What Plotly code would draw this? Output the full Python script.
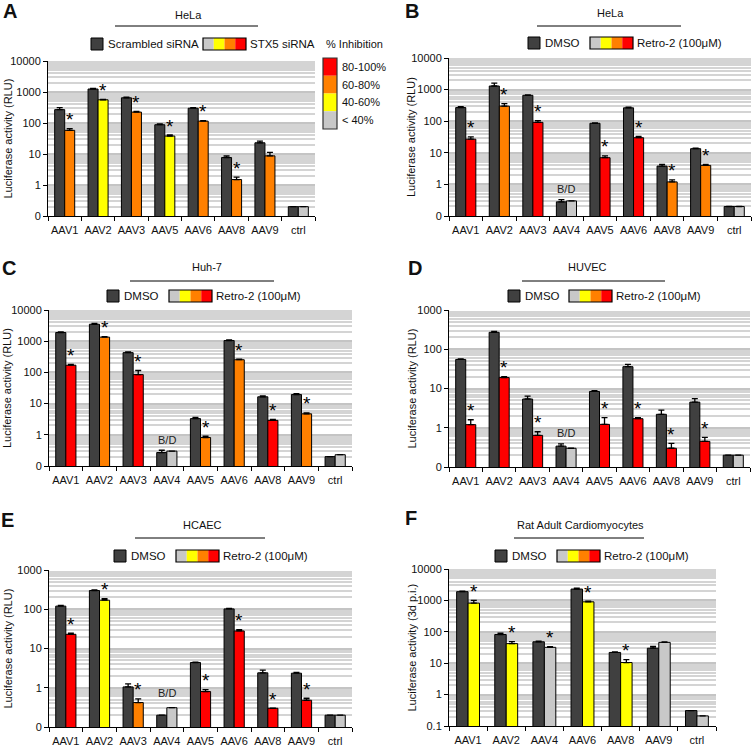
import math
import plotly.graph_objects as go

W, H = 755, 750
FONT = "Liberation Sans, Arial, sans-serif"
DARK = "#404040"
GRID = "#d4d4d4"
CLS_COLORS = {"G": "#c8c8c8", "Y": "#ffff00", "O": "#ff8000", "R": "#ff0000"}

# A - HeLa, siRNA
a_cats = ["AAV1", "AAV2", "AAV3", "AAV5", "AAV6", "AAV8", "AAV9", "ctrl"]
a_ctrl = [270, 1250, 650, 88, 300, 7.7, 23, 0.2]
a_ctrl_err = [45, 60, 30, 5, 10, 1.0, 3, 0]
a_treat = [58, 560, 225, 38, 115, 1.5, 8.7, 0.2]
a_treat_err = [8, 20, 10, 3, 5, 0.3, 2.5, 0]
a_cls = ["O", "Y", "O", "Y", "O", "O", "O", "G"]
a_stars = ["AAV1", "AAV2", "AAV3", "AAV5", "AAV6", "AAV8"]

# B - HeLa, Retro-2
b_cats = ["AAV1", "AAV2", "AAV3", "AAV4", "AAV5", "AAV6", "AAV8", "AAV9", "ctrl"]
b_ctrl = [270, 1300, 660, 0.28, 86, 265, 3.8, 13.5, 0.2]
b_ctrl_err = [20, 300, 20, 0.05, 3, 15, 0.5, 0.5, 0]
b_treat = [27, 300, 92, 0.3, 7, 30, 1.2, 4, 0.2]
b_treat_err = [5, 60, 12, 0, 1, 3, 0.2, 0.3, 0]
b_cls = ["R", "O", "R", "G", "R", "R", "O", "O", "G"]
b_stars = ["AAV1", "AAV2", "AAV3", "AAV5", "AAV6", "AAV8", "AAV9"]

# C - Huh-7
c_cats = ["AAV1", "AAV2", "AAV3", "AAV4", "AAV5", "AAV6", "AAV8", "AAV9", "ctrl"]
c_ctrl = [1900, 3500, 430, 0.27, 3.3, 1050, 16.5, 19.5, 0.2]
c_ctrl_err = [100, 200, 20, 0.05, 0.3, 50, 1, 1.5, 0]
c_treat = [170, 1350, 85, 0.3, 0.82, 255, 2.9, 4.7, 0.23]
c_treat_err = [10, 60, 30, 0, 0.08, 10, 0.2, 0.3, 0]
c_cls = ["R", "O", "R", "G", "O", "O", "R", "O", "G"]
c_stars = ["AAV1", "AAV2", "AAV3", "AAV5", "AAV6", "AAV8", "AAV9"]

# D - HUVEC
d_cats = ["AAV1", "AAV2", "AAV3", "AAV4", "AAV5", "AAV6", "AAV8", "AAV9", "ctrl"]
d_ctrl = [55, 270, 5.4, 0.34, 8.4, 36, 2.2, 4.5, 0.2]
d_ctrl_err = [2, 15, 1, 0.05, 0.4, 5, 0.6, 1, 0]
d_treat = [1.2, 19, 0.64, 0.3, 1.22, 1.7, 0.3, 0.45, 0.2]
d_treat_err = [0.4, 1, 0.15, 0, 0.6, 0.1, 0.1, 0.12, 0]
d_cls = ["R", "R", "R", "G", "R", "R", "R", "R", "G"]
d_stars = ["AAV1", "AAV2", "AAV3", "AAV5", "AAV6", "AAV8", "AAV9"]

# E - HCAEC
e_cats = ["AAV1", "AAV2", "AAV3", "AAV4", "AAV5", "AAV6", "AAV8", "AAV9", "ctrl"]
e_ctrl = [120, 300, 1.05, 0.2, 4.4, 102, 2.4, 2.35, 0.2]
e_ctrl_err = [5, 10, 0.2, 0, 0.1, 3, 0.4, 0.1, 0]
e_treat = [23, 170, 0.42, 0.31, 0.8, 28, 0.3, 0.48, 0.2]
e_treat_err = [1.5, 15, 0.1, 0, 0.1, 2, 0, 0.06, 0]
e_cls = ["R", "Y", "O", "G", "R", "R", "R", "R", "G"]
e_stars = ["AAV1", "AAV2", "AAV3", "AAV5", "AAV6", "AAV8", "AAV9"]

# F - Rat adult cardiomyocytes
f_cats = ["AAV1", "AAV2", "AAV4", "AAV6", "AAV8", "AAV9", "ctrl"]
f_ctrl = [1900, 82, 48, 2300, 22, 30, 0.31]
f_ctrl_err = [80, 8, 2, 150, 1, 4, 0]
f_treat = [820, 42, 32, 900, 10.5, 46, 0.21]
f_treat_err = [180, 7, 1.5, 40, 2.5, 2, 0]
f_cls = ["Y", "Y", "G", "Y", "Y", "G", "G"]
f_stars = ["AAV1", "AAV2", "AAV4", "AAV6", "AAV8"]

panels = [
    dict(letter="A", cats=a_cats, ctrl=a_ctrl, ctrl_err=a_ctrl_err, treat=a_treat, treat_err=a_treat_err,
         cls=a_cls, stars=a_stars, top=4, zero_label="0", title="HeLa", ctrl_name="Scrambled siRNA",
         treat_name="STX5 siRNA", ytitle="Luciferase activity (RLU)",
         plot=(48, 61, 315, 216), title_xy=(188, 15), line=(115, 258, 26), ytitle_x=8,
         letter_xy=(10, 11), dark=(91, 38), grad=(203, 38)),
    dict(letter="B", cats=b_cats, ctrl=b_ctrl, ctrl_err=b_ctrl_err, treat=b_treat, treat_err=b_treat_err,
         cls=b_cls, stars=b_stars, top=4, zero_label="0", title="HeLa", ctrl_name="DMSO",
         treat_name="Retro-2 (100μM)", ytitle="Luciferase activity (RLU)",
         plot=(449, 58, 751, 216), title_xy=(610, 13), line=(537, 681, 26), ytitle_x=411,
         letter_xy=(412, 11), dark=(528, 37), grad=(590, 37)),
    dict(letter="C", cats=c_cats, ctrl=c_ctrl, ctrl_err=c_ctrl_err, treat=c_treat, treat_err=c_treat_err,
         cls=c_cls, stars=c_stars, top=4, zero_label="0", title="Huh-7", ctrl_name="DMSO",
         treat_name="Retro-2 (100μM)", ytitle="Luciferase activity (RLU)",
         plot=(49, 310, 352, 466), title_xy=(207, 267), line=(130, 274, 281), ytitle_x=7,
         letter_xy=(9, 268), dark=(107, 290), grad=(169, 290)),
    dict(letter="D", cats=d_cats, ctrl=d_ctrl, ctrl_err=d_ctrl_err, treat=d_treat, treat_err=d_treat_err,
         cls=d_cls, stars=d_stars, top=3, zero_label="0", title="HUVEC", ctrl_name="DMSO",
         treat_name="Retro-2 (100μM)", ytitle="Luciferase activity (RLU)",
         plot=(449, 310, 750, 467), title_xy=(587, 267), line=(522, 665, 281), ytitle_x=411,
         letter_xy=(415, 268), dark=(508, 290), grad=(569, 290)),
    dict(letter="E", cats=e_cats, ctrl=e_ctrl, ctrl_err=e_ctrl_err, treat=e_treat, treat_err=e_treat_err,
         cls=e_cls, stars=e_stars, top=3, zero_label="0", title="HCAEC", ctrl_name="DMSO",
         treat_name="Retro-2 (100μM)", ytitle="Luciferase activity (RLU)",
         plot=(49, 570, 352, 727), title_xy=(202, 525), line=(135, 265, 538), ytitle_x=7,
         letter_xy=(7, 520), dark=(114, 550), grad=(176, 550)),
    dict(letter="F", cats=f_cats, ctrl=f_ctrl, ctrl_err=f_ctrl_err, treat=f_treat, treat_err=f_treat_err,
         cls=f_cls, stars=f_stars, top=4, zero_label="0.1", title="Rat Adult Cardiomyocytes", ctrl_name="DMSO",
         treat_name="Retro-2 (100μM)", ytitle="Luciferase activity (3d p.i.)",
         plot=(449, 569, 716, 726), title_xy=(580, 525), line=(514, 644, 538), ytitle_x=411,
         letter_xy=(411, 518), dark=(495, 550), grad=(557, 550)),
]

inhib_labels = ["80-100%", "60-80%", "40-60%", "< 40%"]
inhib_cls = ["R", "O", "Y", "G"]


def px(x):
    return x / W


def py(y):
    return 1 - y / H


def label(x, y, text, size=11, anchor="center", **kw):
    # text placed in pixel coordinates of the page
    return dict(x=px(x), y=py(y), xref="paper", yref="paper", text=text, showarrow=False,
                xanchor=anchor, yanchor="middle", font=dict(family=FONT, size=size, color="#111"), **kw)


BAR_GAP = 0.4
fig = go.Figure()
shapes = []
annotations = []

for n, p in enumerate(panels, start=1):
    sfx = "" if n == 1 else str(n)
    xa, ya = "x" + sfx, "y" + sfx
    x0, y0, x1, y1 = p["plot"]
    n_cat = len(p["cats"])
    bar_w = (x1 - x0) / n_cat * (1 - BAR_GAP) / 2

    fig.add_trace(go.Bar(
        x=p["cats"], y=p["ctrl"], xaxis=xa, yaxis=ya, offsetgroup="ctrl",
        marker=dict(color=DARK, line=dict(color="black", width=1)),
        error_y=dict(type="data", array=p["ctrl_err"], arrayminus=[0] * n_cat,
                     symmetric=False, color="black", thickness=1.3, width=3)))
    fig.add_trace(go.Bar(
        x=p["cats"], y=p["treat"], xaxis=xa, yaxis=ya, offsetgroup="treat",
        marker=dict(color=[CLS_COLORS[c] for c in p["cls"]], line=dict(color="black", width=1)),
        error_y=dict(type="data", array=p["treat_err"], arrayminus=[0] * n_cat,
                     symmetric=False, color="black", thickness=1.3, width=3)))

    major = [10 ** k for k in range(-1, p["top"] + 1)]
    labels = [p["zero_label"]] + [str(10 ** k) for k in range(0, p["top"] + 1)]
    minor = [m * 10 ** k for k in range(-1, p["top"]) for m in range(2, 10)]

    fig.update_layout(**{
        "xaxis" + sfx: dict(
            domain=[px(x0), px(x1)], anchor=ya, type="category", automargin=False,
            showline=True, linecolor="black", linewidth=1, showgrid=False,
            ticks="outside", tickson="boundaries", ticklen=4, tickcolor="black", tickangle=0,
            ticklabelstandoff=4,
            tickfont=dict(family=FONT, size=11, color="#111")),
        "yaxis" + sfx: dict(
            domain=[py(y1), py(y0)], anchor=xa, type="log", range=[-1, p["top"]], automargin=False,
            tickmode="array", tickvals=major, ticktext=labels,
            showline=True, linecolor="black", linewidth=1,
            ticks="outside", ticklen=4, tickcolor="black",
            showgrid=True, gridcolor="#c4c4c4", gridwidth=1.5, zeroline=False,
            minor=dict(tickmode="array", tickvals=minor, showgrid=True,
                       gridcolor=GRID, gridwidth=1.5, ticks=""),
            tickfont=dict(family=FONT, size=11, color="#111")),
    })

    # significance stars
    for cat in p["stars"]:
        i = p["cats"].index(cat)
        top = p["treat"][i] + p["treat_err"][i]
        annotations.append(dict(x=cat, y=math.log10(top), xref=xa, yref=ya, text="*",
                                showarrow=False, xshift=bar_w / 2, yshift=9, yanchor="middle",
                                font=dict(family=FONT, size=19, color="black")))
    if "AAV4" in p["cats"] and p["letter"] != "F":
        annotations.append(dict(x="AAV4", y=0, xref=xa, yref=ya, text="B/D", showarrow=False,
                                yshift=-5, yanchor="middle", font=dict(family=FONT, size=11, color="#222")))

    # panel letter, title, line, y title
    lx, ly = p["letter_xy"]
    annotations.append(label(lx, ly, "<b>%s</b>" % p["letter"], size=20))
    tx, ty = p["title_xy"]
    annotations.append(label(tx, ty, p["title"]))
    lx0, lx1, lyy = p["line"]
    shapes.append(dict(type="line", xref="paper", yref="paper", x0=px(lx0), x1=px(lx1),
                       y0=py(lyy), y1=py(lyy), line=dict(color="black", width=1)))
    annotations.append(label(p["ytitle_x"], (y0 + y1) / 2, p["ytitle"], textangle=-90))

    # legend: dark square + gradient box
    dx, dy = p["dark"]
    shapes.append(dict(type="rect", xref="paper", yref="paper", x0=px(dx), x1=px(dx + 12),
                       y0=py(dy), y1=py(dy + 12), fillcolor=DARK, line=dict(color="black", width=1)))
    annotations.append(label(dx + 15, dy + 6, p["ctrl_name"], size=11.5, anchor="left"))
    gx, gy = p["grad"]
    for k, c in enumerate(["G", "Y", "O", "R"]):
        shapes.append(dict(type="rect", xref="paper", yref="paper", x0=px(gx + k * 10.75),
                           x1=px(gx + (k + 1) * 10.75), y0=py(gy), y1=py(gy + 12),
                           fillcolor=CLS_COLORS[c], line=dict(width=0)))
    shapes.append(dict(type="rect", xref="paper", yref="paper", x0=px(gx), x1=px(gx + 43),
                       y0=py(gy), y1=py(gy + 12), line=dict(color="black", width=1.2)))
    annotations.append(label(gx + 45, gy + 6, p["treat_name"], size=11.5, anchor="left"))

# % inhibition colour key (panel A)
annotations.append(label(324, 44, "% Inhibition", anchor="left"))
seg = 17.75
for k, (c, lab) in enumerate(zip(inhib_cls, inhib_labels)):
    shapes.append(dict(type="rect", xref="paper", yref="paper", x0=px(323), x1=px(337),
                       y0=py(58 + k * seg), y1=py(58 + (k + 1) * seg),
                       fillcolor=CLS_COLORS[c], line=dict(width=0)))
    annotations.append(label(340, 58 + (k + 0.5) * seg, lab, anchor="left"))
shapes.append(dict(type="rect", xref="paper", yref="paper", x0=px(323), x1=px(337),
                   y0=py(58), y1=py(58 + 4 * seg), line=dict(color="#333", width=1.2)))

fig.update_layout(
    template="none",
    width=W, height=H, margin=dict(l=0, r=0, t=0, b=0, autoexpand=False),
    barmode="group", bargap=BAR_GAP, bargroupgap=0,
    showlegend=False, plot_bgcolor="white", paper_bgcolor="white",
    shapes=shapes, annotations=annotations,
    font=dict(family=FONT),
)

# drop the browser's default 8px body margin so the figure sits at the page corner
fig.write_html("out.html", config={"displayModeBar": False},
               post_script="document.body.style.margin='0px';")
